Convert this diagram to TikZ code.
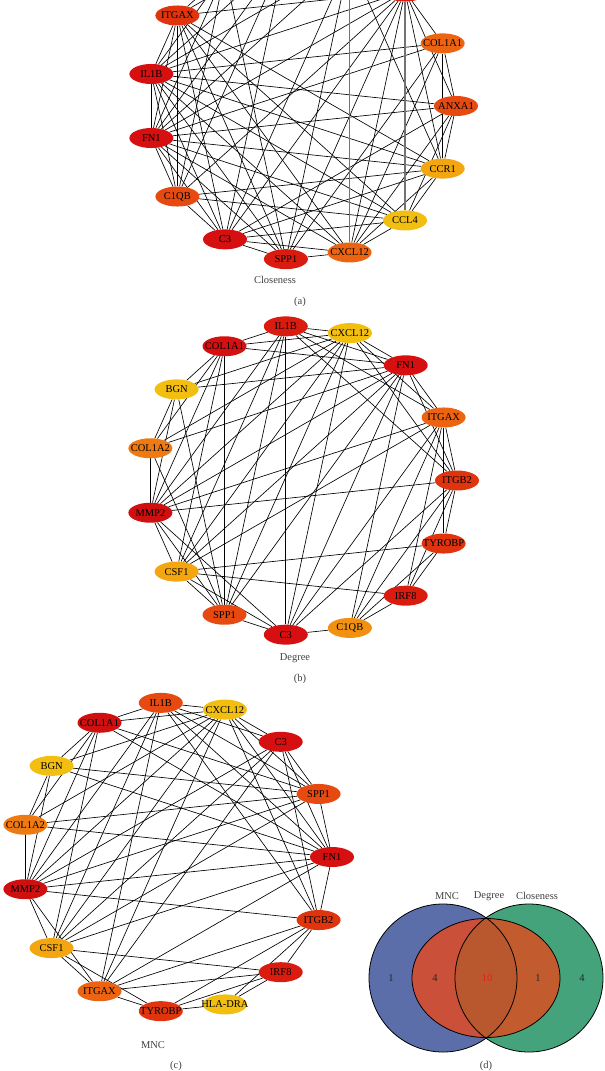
\documentclass[tikz,border=0pt]{standalone}
\usepackage{fontspec}
\setmainfont{Liberation Serif}
\usetikzlibrary{shapes.geometric,backgrounds}
\definecolor{dr}{HTML}{CF1010}
\definecolor{r1}{HTML}{D61010}
\definecolor{r2}{HTML}{DA1C10}
\definecolor{ro}{HTML}{E0340E}
\definecolor{o1}{HTML}{E64A10}
\definecolor{o2}{HTML}{EC6412}
\definecolor{o3}{HTML}{EE7A14}
\definecolor{o4}{HTML}{F29012}
\definecolor{y1}{HTML}{F4A610}
\definecolor{y2}{HTML}{F2BE10}
\definecolor{vblue}{HTML}{5B6EA9}
\definecolor{vgreen}{HTML}{45A37B}
\definecolor{vredL}{HTML}{CB503A}
\definecolor{vredR}{HTML}{C25C2E}
\definecolor{vlens}{HTML}{B9582F}
\definecolor{vten}{HTML}{E02020}
\begin{document}
\begin{tikzpicture}[x=1pt,y=-1pt,
  g/.style={ellipse,minimum width=44pt,minimum height=20pt,inner sep=0pt,
            font=\fontsize{10.5}{11}\selectfont,text=black},
  lnk/.style={draw=black,line width=0.65pt},
  thk/.style={draw=black!55,line width=1.4pt},
  captxt/.style={font=\fontsize{10.5}{12}\selectfont,text=black!75,inner sep=0pt},
  numtxt/.style={font=\fontsize{10.5}{12}\selectfont,text=black!85,inner sep=0pt}]
\useasboundingbox (0,0) rectangle (605,1071);
\clip (0,0) rectangle (605,1071);

% ---------------- panel (a) ----------------
\foreach \n/\t/\a/\c in {aANXA1/ANXA1/0/o1, aCOL1A1/COL1A1/24/o2, aH1//48/r2, aH2//72/ro,
  aH3//96/ro, aH4//120/ro, aITGAX/ITGAX/144/ro, aIL1B/IL1B/168/r1, aFN1/FN1/192/r1,
  aC1QB/C1QB/216/o1, aC3/C3/240/r1, aSPP1/SPP1/264/r2, aCXCL12/CXCL12/288/o2,
  aCCL4/CCL4/312/y2, aCCR1/CCR1/336/y1}
  \node[g,fill=\c] (\n) at ({302+154*cos(\a)},{106-154*sin(\a)}) {\makebox[0pt]{\t}};

% ---------------- panel (b) ----------------
\foreach \n/\t/\a/\c in {bITGB2/ITGB2/0/ro, bITGAX/ITGAX/24/o2, bFN1/FN1/48/r1,
  bCXCL12/CXCL12/72/y2, bIL1B/IL1B/96/r2, bCOL1A1/COL1A1/120/r1, bBGN/BGN/144/y2,
  bCOL1A2/COL1A2/168/o3, bMMP2/MMP2/192/dr, bCSF1/CSF1/216/y1, bSPP1/SPP1/240/o1,
  bC3/C3/264/r1, bC1QB/C1QB/288/o4, bIRF8/IRF8/312/r2, bTYROBP/TYROBP/336/ro}
  \node[g,fill=\c] (\n) at ({302+155*cos(\a)},{480.5-155*sin(\a)}) {\makebox[0pt]{\t}};

% ---------------- panel (c) ----------------
\foreach \n/\t/\a/\c in {cFN1/FN1/0/r1, cSPP1/SPP1/24/o1, cC3/C3/48/r1,
  cCXCL12/CXCL12/72/y2, cIL1B/IL1B/96/o1, cCOL1A1/COL1A1/120/dr, cBGN/BGN/144/y2,
  cCOL1A2/COL1A2/168/o3, cMMP2/MMP2/192/dr, cCSF1/CSF1/216/y1, cITGAX/ITGAX/240/o2,
  cTYROBP/TYROBP/264/ro, cHLA/HLA-DRA/288/y2, cIRF8/IRF8/312/r2, cITGB2/ITGB2/336/ro}
  \node[g,fill=\c] (\n) at ({177+155*cos(\a)},{857-155*sin(\a)}) {\makebox[0pt]{\t}};

\begin{pgfonlayer}{background}
\foreach \u/\v in {aIL1B/aFN1, aIL1B/aITGAX, aIL1B/aC3, aIL1B/aSPP1, aIL1B/aCXCL12,
  aIL1B/aCOL1A1, aIL1B/aC1QB, aIL1B/aCCL4, aIL1B/aCCR1, aIL1B/aANXA1, aIL1B/aH1,
  aIL1B/aH2, aIL1B/aH3, aIL1B/aH4,
  aFN1/aC3, aFN1/aSPP1, aFN1/aCXCL12, aFN1/aCOL1A1, aFN1/aITGAX, aFN1/aC1QB,
  aFN1/aCCL4, aFN1/aCCR1, aFN1/aANXA1, aFN1/aH1, aFN1/aH2, aFN1/aH3, aFN1/aH4,
  aITGAX/aC3, aITGAX/aC1QB, aITGAX/aCXCL12, aITGAX/aCCL4, aITGAX/aCCR1, aITGAX/aH1,
  aITGAX/aH3, aITGAX/aH4, aITGAX/aSPP1,
  aC3/aC1QB, aC3/aSPP1, aC3/aCXCL12, aC3/aCCL4, aC3/aCCR1, aC3/aANXA1, aC3/aH1,
  aC3/aH2, aC3/aH3,
  aC1QB/aCCL4, aC1QB/aCCR1, aC1QB/aH1, aC1QB/aH3, aC1QB/aH4,
  aSPP1/aCXCL12, aSPP1/aCOL1A1, aSPP1/aH1, aSPP1/aH2, aSPP1/aH4,
  aCXCL12/aCOL1A1, aCXCL12/aCCL4, aCXCL12/aCCR1, aCXCL12/aANXA1, aCXCL12/aH1,
  aCCL4/aCCR1, aCCL4/aANXA1, aCCR1/aANXA1, aCCR1/aCOL1A1, aCCR1/aH1, aCCR1/aH2,
  aANXA1/aCOL1A1, aANXA1/aH1, aCOL1A1/aH1}
  \draw[lnk] (\u) -- (\v);
\draw[thk] (aH2) -- (aCXCL12);
\draw[thk] (aH1) -- (aCCL4);

\foreach \u/\v in {bIL1B/bCXCL12, bIL1B/bCOL1A1, bIL1B/bFN1, bIL1B/bITGAX, bIL1B/bITGB2,
  bIL1B/bC3, bIL1B/bSPP1, bIL1B/bCSF1, bIL1B/bMMP2,
  bCXCL12/bCOL1A1, bCXCL12/bFN1, bCXCL12/bITGAX, bCXCL12/bITGB2, bCXCL12/bBGN,
  bCXCL12/bCOL1A2, bCXCL12/bMMP2, bCXCL12/bCSF1, bCXCL12/bSPP1, bCXCL12/bC3,
  bCOL1A1/bFN1, bCOL1A1/bBGN, bCOL1A1/bCOL1A2, bCOL1A1/bMMP2, bCOL1A1/bSPP1, bCOL1A1/bCSF1,
  bFN1/bBGN, bFN1/bCOL1A2, bFN1/bMMP2, bFN1/bCSF1, bFN1/bSPP1, bFN1/bC3, bFN1/bITGAX,
  bFN1/bITGB2, bFN1/bC1QB,
  bBGN/bCOL1A2, bBGN/bMMP2, bBGN/bSPP1, bCOL1A2/bMMP2, bCOL1A2/bSPP1,
  bMMP2/bCSF1, bMMP2/bSPP1, bMMP2/bITGB2, bMMP2/bC3, bMMP2/bITGAX,
  bCSF1/bSPP1, bCSF1/bC3, bCSF1/bTYROBP, bCSF1/bIRF8, bCSF1/bITGAX,
  bSPP1/bC3, bC3/bC1QB, bC3/bITGB2, bC3/bITGAX,
  bC1QB/bITGB2, bC1QB/bTYROBP, bC1QB/bIRF8, bC1QB/bITGAX,
  bITGAX/bITGB2, bITGAX/bTYROBP, bITGAX/bIRF8,
  bITGB2/bTYROBP, bITGB2/bIRF8, bTYROBP/bIRF8}
  \draw[lnk] (\u) -- (\v);

\foreach \u/\v in {cIL1B/cCXCL12, cIL1B/cCOL1A1, cIL1B/cFN1, cIL1B/cITGAX, cIL1B/cITGB2,
  cIL1B/cC3, cIL1B/cSPP1, cIL1B/cCSF1, cIL1B/cMMP2,
  cCXCL12/cCOL1A1, cCXCL12/cFN1, cCXCL12/cITGAX, cCXCL12/cITGB2, cCXCL12/cBGN,
  cCXCL12/cCOL1A2, cCXCL12/cMMP2, cCXCL12/cCSF1, cCXCL12/cSPP1, cCXCL12/cC3,
  cCOL1A1/cFN1, cCOL1A1/cBGN, cCOL1A1/cCOL1A2, cCOL1A1/cMMP2, cCOL1A1/cSPP1, cCOL1A1/cCSF1,
  cFN1/cBGN, cFN1/cCOL1A2, cFN1/cMMP2, cFN1/cCSF1, cFN1/cSPP1, cFN1/cC3, cFN1/cITGAX,
  cFN1/cITGB2,
  cBGN/cCOL1A2, cBGN/cMMP2, cBGN/cSPP1, cCOL1A2/cMMP2, cCOL1A2/cSPP1,
  cMMP2/cCSF1, cMMP2/cSPP1, cMMP2/cITGB2, cMMP2/cC3, cMMP2/cITGAX,
  cCSF1/cSPP1, cCSF1/cC3, cCSF1/cTYROBP, cCSF1/cIRF8, cCSF1/cITGAX,
  cSPP1/cC3, cC3/cITGB2, cC3/cITGAX,
  cITGAX/cITGB2, cITGAX/cTYROBP, cITGAX/cIRF8,
  cITGB2/cTYROBP, cITGB2/cIRF8, cTYROBP/cIRF8,
  cHLA/cTYROBP, cHLA/cIRF8, cHLA/cITGB2}
  \draw[lnk] (\u) -- (\v);
\end{pgfonlayer}

% captions
\node[captxt] (capA) at (275,280) {Closeness};
\node[captxt] (labA) at (300,302) {(a)};
\node[captxt] (capB) at (295,658) {Degree};
\node[captxt] (labB) at (300,679) {(b)};
\node[captxt] (capC) at (153,1045) {MNC};
\node[captxt] (labC) at (176,1066) {(c)};

% ---------------- panel (d) Venn ----------------
\fill[vblue] (443,978) circle (74pt);
\fill[vgreen] (529,978) circle (74pt);
\fill[vredL] (486,978) ellipse [x radius=74pt, y radius=59.5pt];
\begin{scope}
  \clip (529,978) circle (74pt);
  \fill[vredR] (486,978) ellipse [x radius=74pt, y radius=59.5pt];
\end{scope}
\begin{scope}
  \clip (443,978) circle (74pt);
  \clip (529,978) circle (74pt);
  \fill[vlens] (400,890) rectangle (600,1060);
\end{scope}
\draw[line width=0.8pt] (443,978) circle (74pt) (529,978) circle (74pt)
  (486,978) ellipse [x radius=74pt, y radius=59.5pt];

\node[captxt] (vMNC) at (447,896) {MNC};
\node[captxt] (vDeg) at (489,896) {Degree};
\node[captxt] (vClo) at (537,896) {Closeness};
\node[numtxt] (n1) at (391,978) {1};
\node[numtxt] (n2) at (435,978) {4};
\node[numtxt,text=vten] (n3) at (487,978) {10};
\node[numtxt] (n4) at (538,978) {1};
\node[numtxt] (n5) at (582,978) {4};
\node[captxt] (labD) at (486,1066) {(d)};
\end{tikzpicture}
\end{document}
